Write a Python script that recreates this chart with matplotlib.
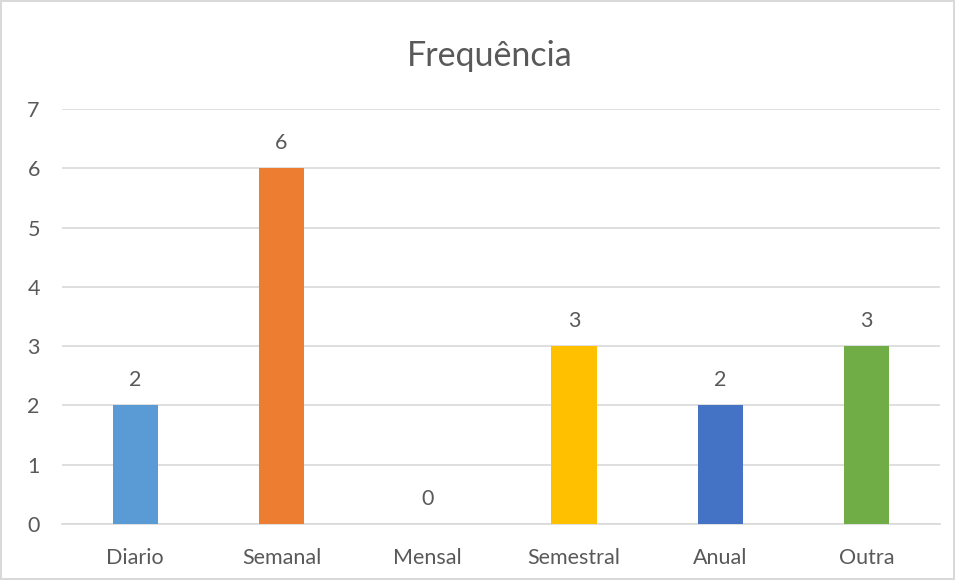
import matplotlib
matplotlib.use("Agg")
import matplotlib.pyplot as plt
import numpy as np

# dados
categorias = ["Diario", "Semanal", "Mensal", "Semestral", "Anual", "Outra"]
valores = [2, 6, 0, 3, 2, 3]
cores = ["#5B9BD5", "#ED7D31", "#A5A5A5", "#FFC000", "#4472C4", "#70AD47"]
y_ticks = [0, 1, 2, 3, 4, 5, 6, 7]

plt.rcParams["font.family"] = ["Lato", "DejaVu Sans"]
texto = "#595959"
grade = "#D9D9D9"

fig = plt.figure(figsize=(9.55, 5.8), dpi=100)
fig.patch.set_edgecolor("#D9D9D9")
fig.patch.set_linewidth(1.5)
ax = fig.add_axes([0.065, 0.0966, 0.919, 0.7154])

x = np.arange(len(categorias))
barras = ax.bar(x, valores, width=0.31, color=cores, zorder=3)

for xi, v in zip(x, valores):
    ax.annotate(str(v), (xi, v), xytext=(0, 11), textcoords="offset points",
                ha="center", va="bottom", fontsize=15.5, color=texto)

ax.set_xlim(-0.5, len(categorias) - 0.5)
ax.set_ylim(0, 7)
ax.set_yticks(y_ticks)
ax.set_xticks(x)
ax.set_xticklabels(categorias)
ax.tick_params(length=0, labelsize=15.5, colors=texto)
ax.tick_params(axis="y", pad=16)
ax.tick_params(axis="x", pad=17)
ax.grid(axis="y", color=grade, linewidth=1.2, zorder=0)
for s in ["top", "right", "left"]:
    ax.spines[s].set_visible(False)
ax.spines["bottom"].set_color(grade)
ax.spines["bottom"].set_linewidth(1.2)

fig.text(0.513, 0.903, "Frequência", ha="center", va="center", fontsize=24.5, color=texto)

fig.savefig("out.png", dpi=100)
